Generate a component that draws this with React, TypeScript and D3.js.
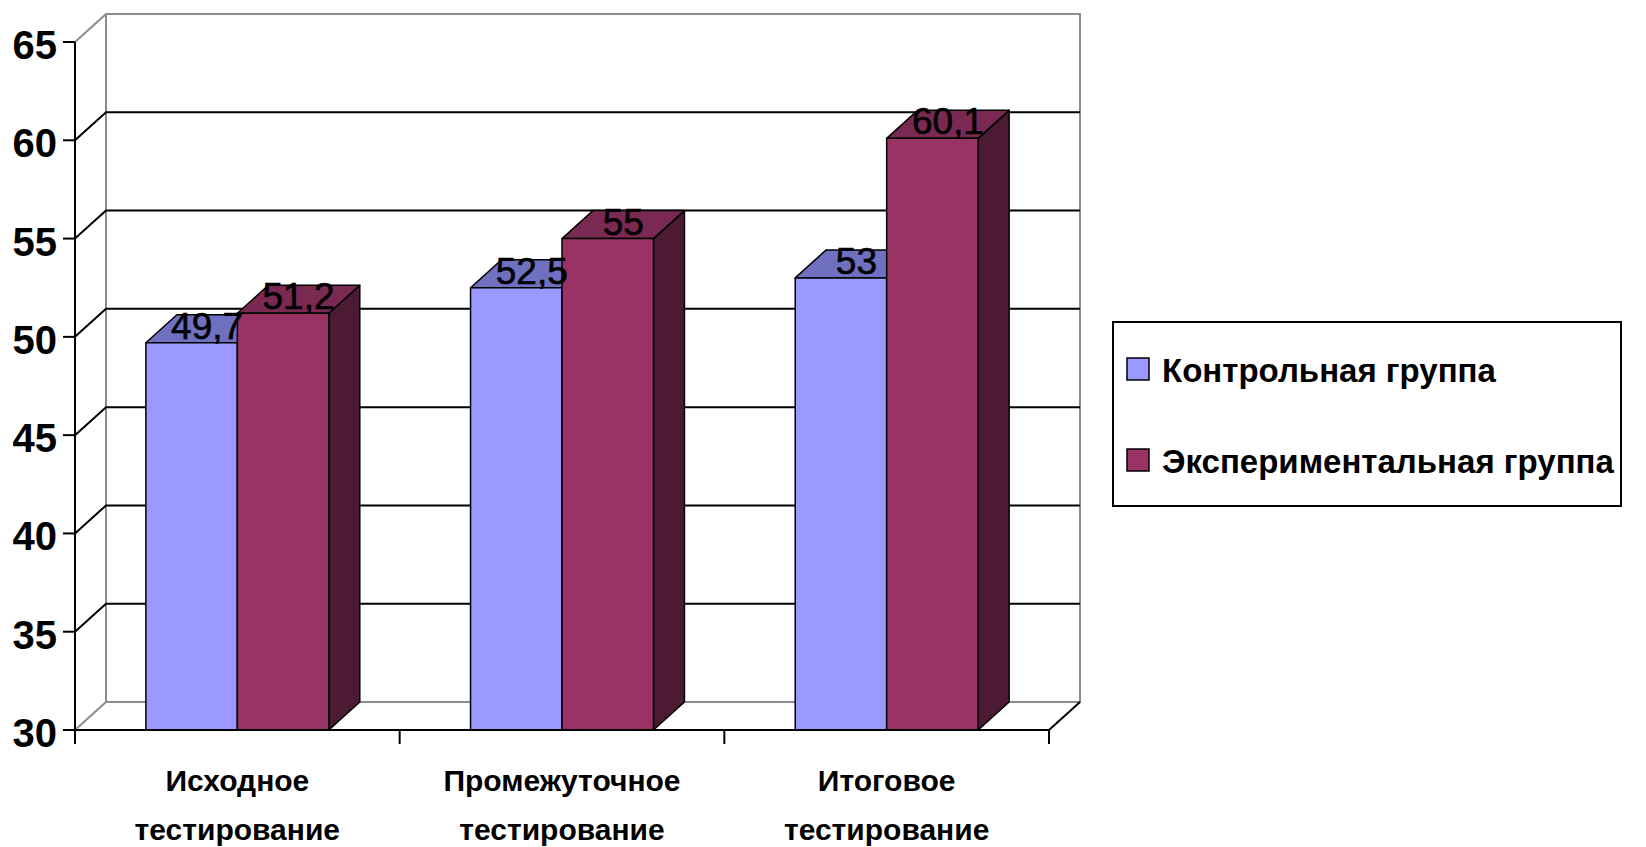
import React, { useRef, useEffect } from "react";
import * as d3 from "d3";

const categories = ["Исходное тестирование", "Промежуточное тестирование", "Итоговое тестирование"];
const seriesNames = ["Контрольная группа", "Экспериментальная группа"];
const controlValues = [49.7, 52.5, 53];
const experimentalValues = [51.2, 55, 60.1];
const yTicks = [30, 35, 40, 45, 50, 55, 60, 65];

const colors = [
  { front: "#9999ff", top: "#7070c0", side: "#4d4d80" },
  { front: "#993366", top: "#7a2952", side: "#4d1a33" },
];

const W = 1646;
const H = 847;
const DX = 31;
const DY = -28;
const FONT = "'Liberation Sans', Arial, sans-serif";

const App = () => {
  const ref = useRef<SVGSVGElement>(null);

  useEffect(() => {
    if (!ref.current) return;
    const svg = d3.select(ref.current);
    svg.selectAll("*").remove();

    const left = 75;
    const right = 1049;
    const y = d3.scaleLinear().domain([30, 65]).range([730, 42]);
    const x0 = d3.scaleBand().domain(categories).range([left, right]).padding(0);
    const x1 = d3
      .scaleBand()
      .domain(seriesNames)
      .range([0, x0.bandwidth()])
      .paddingInner(0)
      .paddingOuter(0.775);

    svg.append("rect").attr("width", W).attr("height", H).attr("fill", "#ffffff");

    const grid = svg.append("g").attr("fill", "none");
    // back wall border
    grid
      .append("path")
      .attr("d", `M${left + DX},${y(30) + DY}V${y(65) + DY}H${right + DX}V${y(30) + DY}H${left + DX}`)
      .attr("stroke", "#8c8c8c")
      .attr("stroke-width", 2);
    // left wall top/bottom diagonals
    [30, 65].forEach((v) => {
      grid
        .append("line")
        .attr("x1", left)
        .attr("y1", y(v))
        .attr("x2", left + DX)
        .attr("y2", y(v) + DY)
        .attr("stroke", "#8c8c8c")
        .attr("stroke-width", 2);
    });
    // gridlines
    yTicks
      .filter((v) => v > 30 && v < 65)
      .forEach((v) => {
        grid
          .append("path")
          .attr("d", `M${left},${y(v)}L${left + DX},${y(v) + DY}H${right + DX}`)
          .attr("stroke", "#000")
          .attr("stroke-width", 2);
      });
    // floor right diagonal
    grid
      .append("line")
      .attr("x1", right)
      .attr("y1", y(30))
      .attr("x2", right + DX)
      .attr("y2", y(30) + DY)
      .attr("stroke", "#000")
      .attr("stroke-width", 2);

    // bars
    const bars = svg.append("g");
    categories.forEach((cat, i) => {
      const vals = [controlValues[i], experimentalValues[i]];
      seriesNames.forEach((s, j) => {
        const bx = (x0(cat) as number) + (x1(s) as number);
        const bw = x1.bandwidth();
        const ty = y(vals[j]);
        const by = y(30);
        const c = colors[j];
        const g = bars.append("g").attr("stroke", "#000").attr("stroke-width", 1.5).attr("stroke-linejoin", "round");
        g.append("path")
          .attr("d", `M${bx + bw},${by}L${bx + bw + DX},${by + DY}V${ty + DY}L${bx + bw},${ty}Z`)
          .attr("fill", c.side);
        g.append("path")
          .attr("d", `M${bx},${ty}L${bx + DX},${ty + DY}H${bx + bw + DX}L${bx + bw},${ty}Z`)
          .attr("fill", c.top);
        g.append("rect")
          .attr("x", bx)
          .attr("y", ty)
          .attr("width", bw)
          .attr("height", by - ty)
          .attr("fill", c.front);
      });
    });

    // value labels
    categories.forEach((cat, i) => {
      const vals = [controlValues[i], experimentalValues[i]];
      seriesNames.forEach((s, j) => {
        const cx = (x0(cat) as number) + (x1(s) as number) + x1.bandwidth() / 2 + DX / 2;
        svg
          .append("text")
          .attr("x", cx)
          .attr("y", y(vals[j]) - 4)
          .attr("text-anchor", "middle")
          .attr("font-family", FONT)
          .attr("font-size", 37)
          .attr("fill", "#000")
          .attr("stroke", "#000")
          .attr("stroke-width", 0.6)
          .text(String(vals[j]).replace(".", ","));
      });
    });

    // y axis
    const ax = svg.append("g").attr("stroke", "#000").attr("stroke-width", 2);
    ax.append("line").attr("x1", left).attr("x2", left).attr("y1", y(65)).attr("y2", y(30));
    yTicks.forEach((v) => {
      ax.append("line").attr("x1", left - 12).attr("x2", left).attr("y1", y(v)).attr("y2", y(v));
    });
    svg
      .append("g")
      .selectAll("text")
      .data(yTicks)
      .join("text")
      .attr("x", 57)
      .attr("y", (d) => y(d) + 3)
      .attr("text-anchor", "end")
      .attr("dominant-baseline", "central")
      .attr("font-family", FONT)
      .attr("font-weight", "bold")
      .attr("font-size", 40)
      .text((d) => d);

    // x axis
    ax.append("line").attr("x1", left).attr("x2", right).attr("y1", y(30)).attr("y2", y(30));
    [...categories.map((c) => x0(c) as number), right].forEach((tx) => {
      ax.append("line").attr("x1", tx).attr("x2", tx).attr("y1", y(30)).attr("y2", y(30) + 14);
    });
    categories.forEach((cat) => {
      const words = cat.split(" ");
      const t = svg
        .append("text")
        .attr("x", (x0(cat) as number) + x0.bandwidth() / 2)
        .attr("y", 791)
        .attr("text-anchor", "middle")
        .attr("font-family", FONT)
        .attr("font-size", 30)
        .attr("font-weight", "bold");
      words.forEach((w, k) => {
        t.append("tspan")
          .attr("x", (x0(cat) as number) + x0.bandwidth() / 2)
          .attr("dy", k === 0 ? 0 : 49)
          .text(w);
      });
    });

    // legend
    const lg = svg.append("g");
    lg.append("rect")
      .attr("x", 1113)
      .attr("y", 322)
      .attr("width", 508)
      .attr("height", 184)
      .attr("fill", "#fff")
      .attr("stroke", "#000")
      .attr("stroke-width", 2);
    seriesNames.forEach((s, j) => {
      const cy = 369 + j * 91;
      lg.append("rect")
        .attr("x", 1127)
        .attr("y", cy - 11)
        .attr("width", 22)
        .attr("height", 22)
        .attr("fill", colors[j].front)
        .attr("stroke", "#000")
        .attr("stroke-width", 1.5);
      lg.append("text")
        .attr("x", 1162)
        .attr("y", cy + 1)
        .attr("dominant-baseline", "central")
        .attr("font-family", FONT)
        .attr("font-weight", "bold")
        .attr("font-size", 33)
        .text(s);
    });
  }, []);

  return (
    <svg
      ref={ref}
      width={W}
      height={H}
      style={{ position: "absolute", left: 0, top: 0, display: "block" }}
    />
  );
};

export default App;
